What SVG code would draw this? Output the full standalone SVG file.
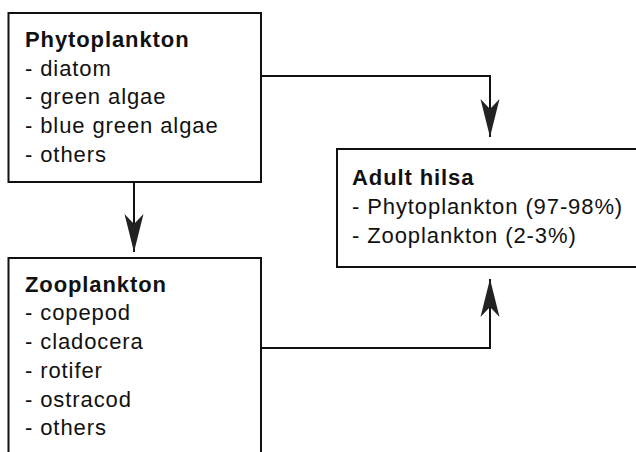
<svg xmlns="http://www.w3.org/2000/svg" width="636" height="452" viewBox="0 0 636 452">
<defs>
<style>
.box{fill:#fff;stroke:#111;stroke-width:2}
.conn{fill:none;stroke:#111;stroke-width:2}
text{font-family:"Liberation Sans",Arial,sans-serif;font-size:22px;letter-spacing:0.9px;fill:#111}
.t{font-weight:bold}
</style>
<marker id="ah" markerUnits="userSpaceOnUse" markerWidth="40" markerHeight="24" viewBox="-39 -11 40 22" refX="0" refY="0" orient="auto">
<path d="M0,0 L-38,-9.5 L-28,0 L-38,9.5 Z" fill="#222"/>
</marker>
</defs>
<rect width="636" height="452" fill="#fff"/>
<g id="connectors">
<path class="conn" d="M134,182 V252" marker-end="url(#ah)"/>
<path class="conn" d="M261,76 H490 V137" marker-end="url(#ah)"/>
<path class="conn" d="M261,348 H490 V279" marker-end="url(#ah)"/>
</g>
<g id="phytoplankton">
<rect class="box" x="8.5" y="13" width="252.5" height="169"/>
<text x="25" y="47" class="t">Phytoplankton</text>
<text x="25" y="76">- diatom</text>
<text x="25" y="104">- green algae</text>
<text x="25" y="133">- blue green algae</text>
<text x="25" y="162">- others</text>
</g>
<g id="zooplankton">
<rect class="box" x="8.5" y="258" width="252.5" height="220"/>
<text x="25" y="292" class="t">Zooplankton</text>
<text x="25" y="320">- copepod</text>
<text x="25" y="349">- cladocera</text>
<text x="25" y="378">- rotifer</text>
<text x="25" y="407">- ostracod</text>
<text x="25" y="435">- others</text>
</g>
<g id="adult-hilsa">
<rect class="box" x="337" y="149" width="320" height="118"/>
<text x="352" y="185" class="t">Adult hilsa</text>
<text x="352" y="214">- Phytoplankton (97-98%)</text>
<text x="352" y="243">- Zooplankton (2-3%)</text>
</g>
</svg>
